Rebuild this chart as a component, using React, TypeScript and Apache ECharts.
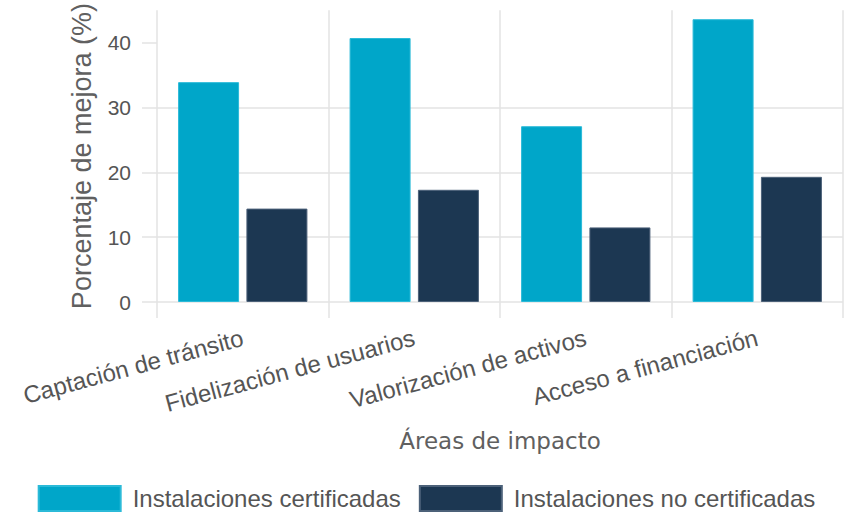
import React, { useEffect, useRef } from "react";
import * as echarts from "echarts";

const categories = [
  "Captación de tránsito",
  "Fidelización de usuarios",
  "Valorización de activos",
  "Acceso a financiación",
];
const certificadas = [33.9, 40.7, 27.1, 43.6];
const noCertificadas = [14.4, 17.3, 11.5, 19.3];
const yTicks = [0, 10, 20, 30, 40];
const seriesNames = ["Instalaciones certificadas", "Instalaciones no certificadas"];

const GRID = "#e3e3e3";
const TEXT = "#555555";

export default function App() {
  const ref = useRef<HTMLDivElement>(null);
  useEffect(() => {
    if (!ref.current) return;
    const chart = echarts.init(ref.current, undefined, { renderer: "svg" });
    chart.setOption({
      animation: false,
      backgroundColor: "#ffffff",
      grid: { left: 157, right: 10, top: 8, bottom: 210, containLabel: false },
      legend: {
        left: "center",
        top: 485,
        padding: 0,
        itemWidth: 82,
        itemHeight: 25,
        itemGap: 18,
        icon: "rect",
        textStyle: {
          fontFamily: "Liberation Sans, Arial, sans-serif",
          fontSize: 24,
          color: TEXT,
          padding: [0, 0, 0, 7],
        },
        data: seriesNames,
      },
      xAxis: {
        type: "category",
        data: categories,
        boundaryGap: true,
        name: "Áreas de impacto",
        nameLocation: "middle",
        nameGap: 127,
        nameTextStyle: {
          fontFamily: "DejaVu Sans, sans-serif",
          fontSize: 23,
          color: "#606060",
        },
        axisLine: { show: false },
        axisTick: { show: true, length: 16, interval: 0, lineStyle: { color: GRID, width: 1.5 } },
        splitLine: { show: true, interval: 0, lineStyle: { color: GRID, width: 1.5 } },
        axisLabel: {
          rotate: 15,
          interval: 0,
          margin: 35,
          fontFamily: "Liberation Sans, Arial, sans-serif",
          fontSize: 24,
          color: TEXT,
        },
      },
      yAxis: {
        type: "value",
        min: 0,
        max: 45,
        interval: 10,
        name: "Porcentaje de mejora (%)",
        nameLocation: "middle",
        nameGap: 62,
        nameTextStyle: {
          fontFamily: "Liberation Sans, Arial, sans-serif",
          fontSize: 27,
          color: "#606060",
        },
        axisLine: { show: false },
        axisTick: { show: true, length: 15, customValues: yTicks, lineStyle: { color: GRID, width: 1.5 } },
        axisLabel: {
          customValues: yTicks,
          margin: 26,
          fontFamily: "Liberation Sans, Arial, sans-serif",
          fontSize: 21,
          color: TEXT,
        },
        splitLine: { show: true, showMaxLine: false, lineStyle: { color: GRID, width: 1.5 } },
      },
      series: [
        {
          name: seriesNames[0],
          type: "bar",
          data: certificadas,
          barWidth: 61,
          barGap: "12%",
          itemStyle: { color: "#00A6C9", borderColor: "#2bbad8", borderWidth: 1 },
        },
        {
          name: seriesNames[1],
          type: "bar",
          data: noCertificadas,
          barWidth: 61,
          barGap: "12%",
          itemStyle: { color: "#1C3752", borderColor: "#4c6179", borderWidth: 1 },
        },
      ],
    });
    return () => chart.dispose();
  }, []);
  return <div ref={ref} style={{ width: 853, height: 512, position: "absolute", left: 0, top: 0 }} />;
}
